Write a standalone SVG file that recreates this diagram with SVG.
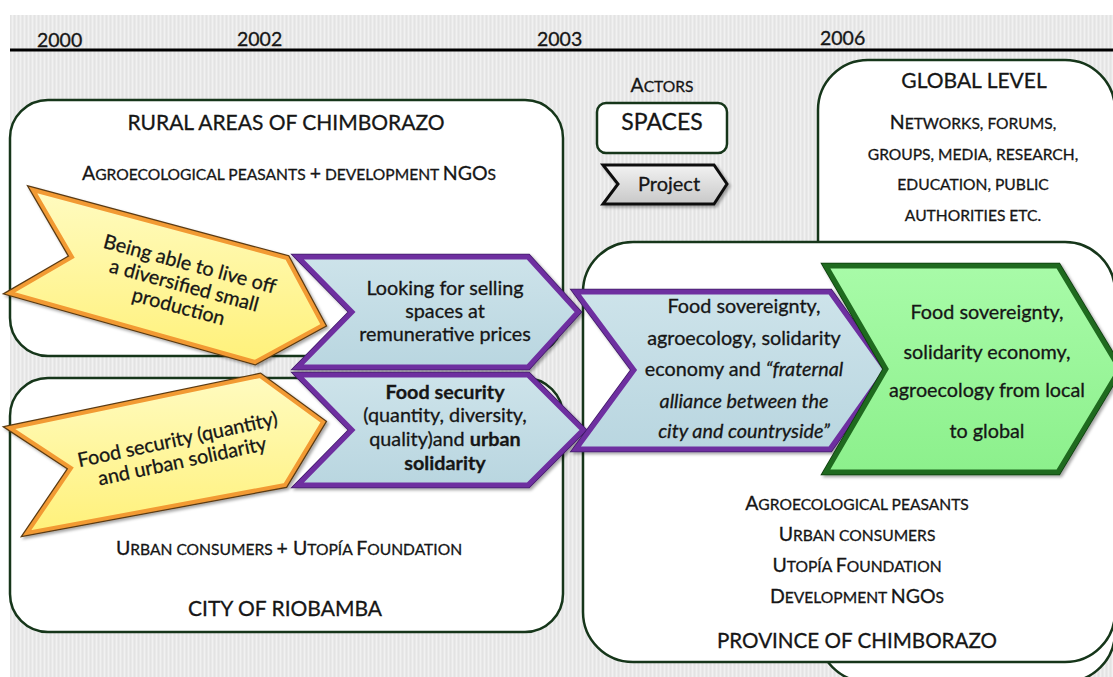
<svg xmlns="http://www.w3.org/2000/svg" width="1113" height="677" viewBox="0 0 1113 677">
  <defs>
    <pattern id="stripes" x="0" y="0" width="4" height="10" patternUnits="userSpaceOnUse">
      <rect width="4" height="10" fill="#e9e9e9"/>
      <rect width="1" height="10" fill="#f1f1f1"/>
      <rect x="2" width="1" height="10" fill="#e3e3e3"/>
    </pattern>
    <linearGradient id="gYellow" x1="0" y1="0" x2="0" y2="1">
      <stop offset="0" stop-color="#fffbc0"/>
      <stop offset="1" stop-color="#fff17a"/>
    </linearGradient>
    <linearGradient id="gBlue" x1="0" y1="0" x2="0" y2="1">
      <stop offset="0" stop-color="#cde3ea"/>
      <stop offset="1" stop-color="#b9d6e0"/>
    </linearGradient>
    <linearGradient id="gGreen" x1="0" y1="0" x2="0" y2="1">
      <stop offset="0" stop-color="#a8fba8"/>
      <stop offset="1" stop-color="#8cf08c"/>
    </linearGradient>
    <linearGradient id="gGray" x1="0" y1="0" x2="0" y2="1">
      <stop offset="0" stop-color="#f2f2f2"/>
      <stop offset="1" stop-color="#c8c8c8"/>
    </linearGradient>
    <filter id="shadow" x="-10%" y="-10%" width="130%" height="130%">
      <feDropShadow dx="2" dy="2" stdDeviation="1.5" flood-color="#000" flood-opacity="0.35"/>
    </filter>
  </defs>
  <style>
    text { font-family: Lato, "Open Sans", "Liberation Sans", sans-serif; fill: #161616; stroke: #161616; stroke-width: 0.3px; }
    .box { fill: #ffffff; stroke: #16361a; stroke-width: 2.5; }
    .title { font-size: 21px; text-anchor: middle; }
    .sc { text-anchor: middle; }
    .big { font-size: 19.5px; }
    .sm { font-size: 15.6px; }
    .year { font-size: 19.5px; }
    .lbl { font-size: 19.8px; text-anchor: middle; }
    .yel { fill: url(#gYellow); stroke: #f29a33; stroke-width: 4; stroke-linejoin: miter; }
    .yelo { fill: none; stroke: #5a3a12; stroke-width: 6.5; stroke-linejoin: miter; }
    .blu { fill: url(#gBlue); stroke: #6e2fa0; stroke-width: 5; stroke-linejoin: miter; }
    .bluo { fill: none; stroke: #3f1a66; stroke-width: 6.5; stroke-linejoin: miter; }
    .grn { fill: url(#gGreen); stroke: #1f6a1f; stroke-width: 5; stroke-linejoin: miter; }
    .grno { fill: none; stroke: #0f3a0f; stroke-width: 6.5; stroke-linejoin: miter; }
    .b { font-weight: bold; }
    .i { font-style: italic; }
  </style>

  <!-- background -->
  <rect x="0" y="0" width="1113" height="677" fill="#ffffff"/>
  <rect x="10" y="15" width="1103" height="662" fill="url(#stripes)"/>

  <!-- timeline -->
  <g id="timeline">
    <line x1="10" y1="50" x2="1113" y2="50" stroke="#000" stroke-width="3"/>
    <text class="year" x="37" y="47">2000</text>
    <text class="year" x="237" y="46">2002</text>
    <text class="year" x="537" y="46">2003</text>
    <text class="year" x="820" y="45">2006</text>
  </g>

  <!-- spaces -->
  <g id="global-level">
    <rect class="box" x="818" y="60" width="297" height="622" rx="50" ry="50"/>
    <text class="title" x="974" y="88">GLOBAL LEVEL</text>
    <text class="sc" x="973" y="129"><tspan class="big">N</tspan><tspan class="sm">ETWORKS, FORUMS,</tspan></text>
    <text class="sc" x="973" y="160"><tspan class="sm">GROUPS, MEDIA, RESEARCH,</tspan></text>
    <text class="sc" x="973" y="190"><tspan class="sm">EDUCATION, PUBLIC</tspan></text>
    <text class="sc" x="973" y="221"><tspan class="sm">AUTHORITIES ETC.</tspan></text>
  </g>

  <g id="rural-areas">
    <rect class="box" x="10" y="100" width="553" height="256" rx="38" ry="38"/>
    <text class="title" x="286" y="130">RURAL AREAS OF CHIMBORAZO</text>
    <text class="sc" x="289" y="180"><tspan class="big">A</tspan><tspan class="sm">GROECOLOGICAL PEASANTS </tspan><tspan class="big">+</tspan><tspan class="sm"> DEVELOPMENT </tspan><tspan class="big">NGO</tspan><tspan class="sm">S</tspan></text>
  </g>

  <g id="city-riobamba">
    <rect class="box" x="10" y="378" width="553" height="254" rx="38" ry="38"/>
    <text class="sc" x="289" y="555"><tspan class="big">U</tspan><tspan class="sm">RBAN CONSUMERS </tspan><tspan class="big">+ U</tspan><tspan class="sm">TOPÍA </tspan><tspan class="big">F</tspan><tspan class="sm">OUNDATION</tspan></text>
    <text class="title" x="285" y="616">CITY OF RIOBAMBA</text>
  </g>

  <g id="province-chimborazo">
    <rect class="box" x="583" y="242" width="532" height="420" rx="50" ry="50"/>
    <text class="sc" x="857" y="510"><tspan class="big">A</tspan><tspan class="sm">GROECOLOGICAL PEASANTS</tspan></text>
    <text class="sc" x="857" y="541"><tspan class="big">U</tspan><tspan class="sm">RBAN CONSUMERS</tspan></text>
    <text class="sc" x="857" y="572"><tspan class="big">U</tspan><tspan class="sm">TOPÍA </tspan><tspan class="big">F</tspan><tspan class="sm">OUNDATION</tspan></text>
    <text class="sc" x="857" y="603"><tspan class="big">D</tspan><tspan class="sm">EVELOPMENT </tspan><tspan class="big">NGO</tspan><tspan class="sm">S</tspan></text>
    <text class="title" x="857" y="648" style="font-size:20.6px">PROVINCE OF CHIMBORAZO</text>
  </g>

  <!-- legend -->
  <g id="legend">
    <text class="sc" x="662" y="92"><tspan class="big">A</tspan><tspan class="sm">CTORS</tspan></text>
    <rect class="box" x="597" y="103" width="130" height="50" rx="9" ry="9"/>
    <text class="title" x="662" y="130" style="font-size:23px">SPACES</text>
    <polygon points="603,165 714,165 727,184 714,204 603,204 618,184" fill="url(#gGray)" stroke="#111" stroke-width="3" stroke-linejoin="miter" filter="url(#shadow)"/>
    <text class="lbl" x="669" y="191" style="font-size:20px">Project</text>
  </g>

  <!-- projects -->
  <g id="yellow-living">
    <polygon class="yelo" points="33,190 287,258 323,325 255,362 10,293 72,257" filter="url(#shadow)"/>
    <polygon class="yel" points="33,190 287,258 323,325 255,362 10,293 72,257"/>
    <g transform="translate(184,286) rotate(15)">
      <text class="lbl" x="0" y="-16">Being able to live off</text>
      <text class="lbl" x="0" y="6">a diversified small</text>
      <text class="lbl" x="0" y="28">production</text>
    </g>
  </g>

  <g id="yellow-food-security">
    <polygon class="yelo" points="10,428 260,376 323,422 285,485 27,533 71,468" filter="url(#shadow)"/>
    <polygon class="yel" points="10,428 260,376 323,422 285,485 27,533 71,468"/>
    <g transform="translate(180,451) rotate(-12)">
      <text class="lbl" x="0" y="-5">Food security (quantity)</text>
      <text class="lbl" x="0" y="17">and urban solidarity</text>
    </g>
  </g>

  <g id="blue-selling">
    <polygon class="bluo" points="298,257 528,257 578,312 528,367 298,367 352,312" filter="url(#shadow)"/>
    <polygon class="blu" points="298,257 528,257 578,312 528,367 298,367 352,312"/>
    <text class="lbl" x="445" y="295">Looking for selling</text>
    <text class="lbl" x="445" y="318">spaces at</text>
    <text class="lbl" x="445" y="341">remunerative prices</text>
  </g>

  <g id="blue-food-security">
    <polygon class="bluo" points="298,375 528,375 583,430 528,485 298,485 352,430" filter="url(#shadow)"/>
    <polygon class="blu" points="298,375 528,375 583,430 528,485 298,485 352,430"/>
    <text class="lbl b" x="445" y="399">Food security</text>
    <text class="lbl" x="445" y="422">(quantity, diversity,</text>
    <text class="lbl" x="445" y="446">quality)and <tspan class="b">urban</tspan></text>
    <text class="lbl b" x="445" y="470">solidarity</text>
  </g>

  <g id="blue-sovereignty">
    <polygon class="bluo" points="576,292 830,292 886,370 830,449 576,449 634,370" filter="url(#shadow)"/>
    <polygon class="blu" points="576,292 830,292 886,370 830,449 576,449 634,370"/>
    <text class="lbl" x="744" y="313">Food sovereignty,</text>
    <text class="lbl" x="744" y="345">agroecology, solidarity</text>
    <text class="lbl" x="744" y="376">economy and <tspan class="i">“fraternal</tspan></text>
    <text class="lbl i" x="744" y="408">alliance between the</text>
    <text class="lbl i" x="744" y="438">city and countryside”</text>
  </g>

  <g id="green-global">
    <polygon class="grno" points="826,266 1058,266 1120,369 1058,472 826,472 886,369" filter="url(#shadow)"/>
    <polygon class="grn" points="826,266 1058,266 1120,369 1058,472 826,472 886,369"/>
    <text class="lbl" x="987" y="319">Food sovereignty,</text>
    <text class="lbl" x="987" y="359">solidarity economy,</text>
    <text class="lbl" x="987" y="397">agroecology from local</text>
    <text class="lbl" x="987" y="438">to global</text>
  </g>

  <g id="connectors"></g>
</svg>
